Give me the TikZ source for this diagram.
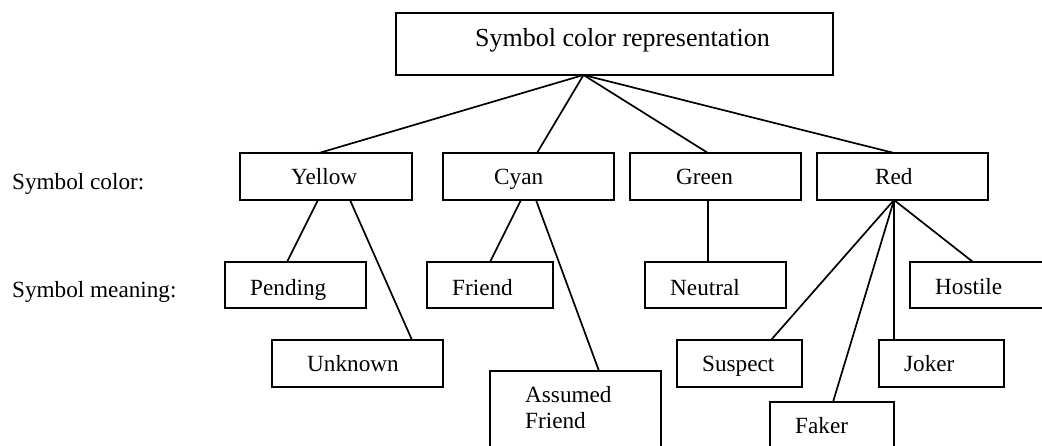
\documentclass[tikz,border=0pt]{standalone}
\usepackage{fontspec}
\setmainfont{Liberation Serif}
\begin{document}
\begin{tikzpicture}[x=1pt,y=-1pt,
  box/.style={draw=black,line width=1.9pt,rectangle,inner sep=0pt,outer sep=0pt},
  lbl/.style={anchor=base west,inner sep=0pt,font=\fontsize{23.2}{27}\selectfont},
  biglbl/.style={anchor=base west,inner sep=0pt,font=\fontsize{26}{30}\selectfont},
  link/.style={draw=black,line width=1.7pt}]
\useasboundingbox (0,0) rectangle (1042,445);
\clip (0,0) rectangle (1042,445);
% boxes
\newcommand{\mkbox}[5]{\node[box,anchor=north west,minimum width={#4-#2},minimum height={#5-#3}] (#1) at (#2,#3) {};}
\mkbox{top}{396}{13}{833}{75}
\mkbox{yellow}{240}{153}{412}{200}
\mkbox{cyan}{443}{153}{614}{200}
\mkbox{green}{630}{153}{801}{200}
\mkbox{red}{817}{153}{988}{200}
\mkbox{pending}{225}{262}{366}{308}
\mkbox{friend}{427}{262}{553}{308}
\mkbox{neutral}{645}{262}{786}{308}
\mkbox{hostile}{910}{262}{1060}{308}
\mkbox{unknown}{272}{340}{443}{387}
\mkbox{suspect}{677}{340}{802}{387}
\mkbox{joker}{879}{340}{1004}{387}
\mkbox{assumed}{490}{371}{661}{470}
\mkbox{faker}{770}{402}{894}{470}
% texts
\node[biglbl] (ttop) at (475,46) {Symbol color representation};
\node[lbl] (tcolor) at (12,189) {Symbol color:};
\node[lbl] (tmeaning) at (12,297) {Symbol meaning:};
\node[lbl] (tyellow) at (291,184) {Yellow};
\node[lbl] (tcyan) at (494,184) {Cyan};
\node[lbl] (tgreen) at (676,184) {Green};
\node[lbl] (tred) at (875,184) {Red};
\node[lbl] (tpending) at (250,295) {Pending};
\node[lbl] (tfriend) at (452,295) {Friend};
\node[lbl] (tneutral) at (670,295) {Neutral};
\node[lbl] (thostile) at (935,294) {Hostile};
\node[lbl] (tunknown) at (307,371) {Unknown};
\node[lbl] (tsuspect) at (702,371) {Suspect};
\node[lbl] (tjoker) at (904,371) {Joker};
\node[lbl] (tassumed) at (525,402) {Assumed};
\node[lbl] (tafriend) at (525,428) {Friend};
\node[lbl] (tfaker) at (795,433) {Faker};
% connection points
\coordinate (apex) at ([xshift=-31pt]top.south);
\coordinate (yb1) at ([xshift=-8pt]yellow.south);
\coordinate (yb2) at ([xshift=24pt]yellow.south);
\coordinate (cb1) at ([xshift=-7.5pt]cyan.south);
\coordinate (cb2) at ([xshift=7.5pt]cyan.south);
\coordinate (rb) at ([xshift=-8.5pt]red.south);
% links
\draw[link] (apex) -- ([xshift=-7pt]yellow.north);
\draw[link] (apex) -- ([xshift=8.5pt]cyan.north);
\draw[link] (apex) -- ([xshift=-7.5pt]green.north);
\draw[link] (apex) -- ([xshift=-8.5pt]red.north);
\draw[link] (yb1) -- ([xshift=-8.5pt]pending.north);
\draw[link] (yb2) -- ([xshift=54.5pt]unknown.north);
\draw[link] (cb1) -- ([xshift=0pt]friend.north);
\draw[link] (cb2) -- ([xshift=23.5pt]assumed.north);
\draw[link] ([xshift=-7.5pt]green.south) -- ([xshift=-7.5pt]neutral.north);
\draw[link] (rb) -- ([xshift=31.5pt]suspect.north);
\draw[link] (rb) -- ([xshift=1pt]faker.north);
\draw[link] (rb) -- ([xshift=-47.5pt]joker.north);
\draw[link] (rb) -- ([xshift=-12pt]hostile.north);
\end{tikzpicture}
\end{document}
